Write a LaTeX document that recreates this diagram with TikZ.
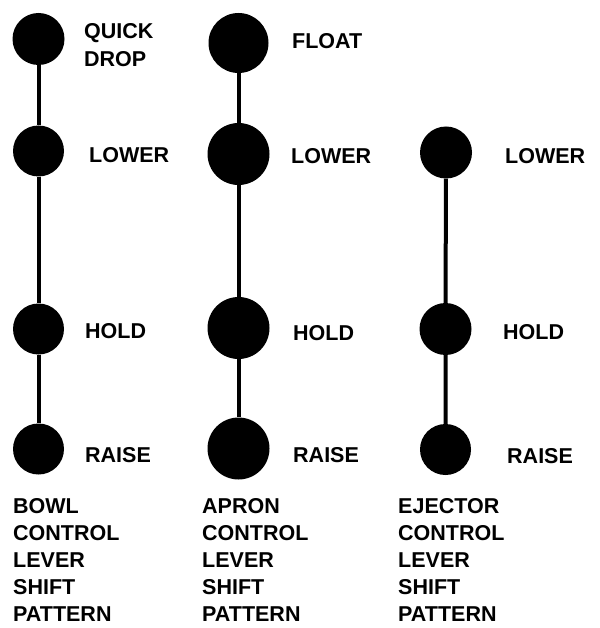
\documentclass[tikz,border=0pt]{standalone}
\usepackage{fontspec}
\setmainfont{Liberation Sans}
\begin{document}
\begin{tikzpicture}[x=1pt,y=-1pt,
  notch/.style={circle, fill=black, draw=none, inner sep=0pt, minimum size=#1},
  stem/.style={line width=4pt, black},
  lbl/.style={anchor=base west, inner sep=0pt, font=\bfseries\fontsize{21.5}{28}\selectfont},
  multi/.style={anchor=north west, inner sep=0pt, align=left, font=\bfseries\fontsize{21.5}{28}\selectfont},
  caption/.style={anchor=north west, inner sep=0pt, align=left, font=\bfseries\fontsize{21.5}{27}\selectfont}]
\useasboundingbox (0,0) rectangle (599,628);

% bowl lever positions
\node[notch=52] (b1) at (38.5,39) {};
\node[notch=51] (b2) at (38.5,151) {};
\node[notch=51] (b3) at (38.5,329) {};
\node[notch=51] (b4) at (38.5,449) {};
\draw[stem] (b1) -- (b2) -- (b3) -- (b4);

% apron lever positions
\node[notch=60] (a1) at (238.5,43) {};
\node[notch=62] (a2) at (238.5,154) {};
\node[notch=62] (a3) at (238.5,328) {};
\node[notch=62] (a4) at (238.5,448.5) {};
\draw[stem] (a1) -- (a2) -- (a3) -- (a4);

% ejector lever positions
\node[notch=52] (e2) at (446,152.5) {};
\node[notch=52] (e3) at (445.5,329) {};
\node[notch=51] (e4) at (445.5,449.5) {};
\draw[stem] (e2) -- (e3) -- (e4);

% position labels
\node[multi] (tb1) at (84,23) {QUICK\\DROP};
\node[lbl] (tb2) at (89,163) {LOWER};
\node[lbl] (tb3) at (85,338) {HOLD};
\node[lbl] (tb4) at (85,462) {RAISE};

\node[lbl] (ta1) at (292,49) {FLOAT};
\node[lbl] (ta2) at (291,164) {LOWER};
\node[lbl] (ta3) at (293,340) {HOLD};
\node[lbl] (ta4) at (293,462) {RAISE};

\node[lbl] (te2) at (505,164) {LOWER};
\node[lbl] (te3) at (503,339) {HOLD};
\node[lbl] (te4) at (507,463) {RAISE};

% captions
\node[caption] (cb) at (13,498) {BOWL\\CONTROL\\LEVER\\SHIFT\\PATTERN};
\node[caption] (ca) at (202,498) {APRON\\CONTROL\\LEVER\\SHIFT\\PATTERN};
\node[caption] (ce) at (398,498) {EJECTOR\\CONTROL\\LEVER\\SHIFT\\PATTERN};
\end{tikzpicture}
\end{document}
